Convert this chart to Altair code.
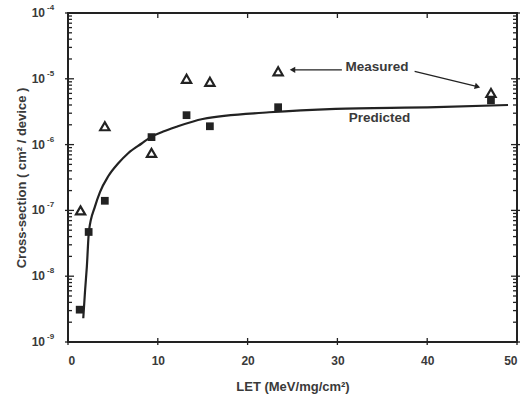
import altair as alt
import pandas as pd

# Measured (open triangles)
meas_let = [1.4, 4.1, 9.3, 13.2, 15.8, 23.4, 47.1]
meas_sig = [1.0e-7, 1.9e-6, 7.5e-7, 1.0e-5, 9.0e-6, 1.3e-5, 6.1e-6]

# Predicted points (filled squares)
pred_let = [1.3, 2.3, 4.1, 9.3, 13.2, 15.8, 23.4, 47.1]
pred_sig = [3.1e-9, 4.7e-8, 1.4e-7, 1.3e-6, 2.8e-6, 1.9e-6, 3.7e-6, 4.7e-6]

# Predicted curve
curve_let = [1.7, 1.9, 2.1, 2.33, 3.0, 3.56, 4.48, 5.6, 6.7, 8.2, 9.3, 10.6, 12, 15,
             22.4, 29.8, 41, 49]
curve_sig = [2.3e-9, 6e-9, 1.4e-8, 4.8e-8, 1.14e-7, 1.9e-7, 3.3e-7, 5.2e-7, 7.4e-7,
             1.04e-6, 1.32e-6, 1.58e-6, 1.85e-6, 2.45e-6, 3.1e-6, 3.5e-6, 3.7e-6, 4.0e-6]

x_ticks = [0, 10, 20, 30, 40, 50]
y_major = [1e-9, 1e-8, 1e-7, 1e-6, 1e-5, 1e-4]
y_exp = ["-9", "-8", "-7", "-6", "-5", "-4"]
y_minor = [m * 10.0 ** e for e in range(-9, -4) for m in range(2, 10)]

W, H = 449, 329
INK = "#222222"
TXT = "#3a3a3a"
FONT = "Liberation Sans"

xs = alt.Scale(domain=[0, 50], nice=False)
ys = alt.Scale(type="log", domain=[1e-9, 1e-4], nice=False)

x_axis = alt.Axis(values=x_ticks, ticks=False, domain=False, grid=False,
                  labelPadding=13, labelFont=FONT, labelFontSize=12,
                  labelFontWeight="bold", labelColor=TXT, titleFont=FONT,
                  titleFontSize=13, titleFontWeight="bold", titleColor=TXT,
                  titlePadding=14)
y_axis = alt.Axis(values=y_major, ticks=False, domain=False, grid=False,
                  labels=False, titleFont=FONT, titleFontSize=13,
                  titleFontWeight="bold", titleColor=TXT, titlePadding=40)
XT = "LET (MeV/mg/cm²)"
YT = "Cross-section  ( cm² / device )"


def X(f):
    return alt.X(f, scale=xs, axis=x_axis, title=XT)


def Y(f):
    return alt.Y(f, scale=ys, axis=y_axis, title=YT)


xt = pd.DataFrame({"v": x_ticks})
ymaj = pd.DataFrame({"v": y_major, "e": y_exp})
ymin = pd.DataFrame({"v": y_minor})

tick_style = dict(color=INK, strokeWidth=1.3)
ticks = [
    alt.Chart(xt).mark_rule(**tick_style).encode(x=X("v:Q"), y=alt.value(H - 4), y2=alt.value(H + 3)),
    alt.Chart(xt).mark_rule(**tick_style).encode(x=X("v:Q"), y=alt.value(0), y2=alt.value(5)),
    alt.Chart(ymaj).mark_rule(**tick_style).encode(y=Y("v:Q"), x=alt.value(-3), x2=alt.value(6)),
    alt.Chart(ymin).mark_rule(**tick_style).encode(y=Y("v:Q"), x=alt.value(0), x2=alt.value(4)),
    alt.Chart(ymaj).mark_rule(**tick_style).encode(y=Y("v:Q"), x=alt.value(W - 6), x2=alt.value(W + 3)),
    alt.Chart(ymin).mark_rule(**tick_style).encode(y=Y("v:Q"), x=alt.value(W - 4), x2=alt.value(W)),
]

ylab_base = alt.Chart(ymaj).mark_text(
    font=FONT, fontSize=12, fontWeight="bold", color=TXT, align="right", baseline="middle"
).encode(y=Y("v:Q"), x=alt.value(-23), text=alt.value("10"))
ylab_exp = alt.Chart(ymaj).mark_text(
    font=FONT, fontSize=8, fontWeight="bold", color=TXT, align="left", baseline="middle", dy=-5
).encode(y=Y("v:Q"), x=alt.value(-21), text="e:N")

curve = alt.Chart(pd.DataFrame({"x": curve_let, "y": curve_sig})).mark_line(
    color=INK, strokeWidth=2.2, interpolate="monotone"
).encode(x=X("x:Q"), y=Y("y:Q"))

squares = alt.Chart(pd.DataFrame({"x": pred_let, "y": pred_sig})).mark_point(
    shape="square", filled=True, color=INK, size=60, opacity=1
).encode(x=X("x:Q"), y=Y("y:Q"))

tris = alt.Chart(pd.DataFrame({"x": meas_let, "y": meas_sig})).mark_point(
    shape="triangle-up", filled=False, color=INK, size=85, strokeWidth=2.2, opacity=1
).encode(x=X("x:Q"), y=Y("y:Q"))

# annotations
lbl_meas = alt.Chart(pd.DataFrame({"x": [34.4], "y": [1.5e-5], "t": ["Measured"]})).mark_text(
    font=FONT, fontSize=13.5, fontWeight="bold", color=TXT
).encode(x=X("x:Q"), y=Y("y:Q"), text="t:N")

lbl_pred = alt.Chart(pd.DataFrame({"x": [34.7], "y": [2.5e-6], "t": ["Predicted"]})).mark_text(
    font=FONT, fontSize=13.5, fontWeight="bold", color=TXT
).encode(x=X("x:Q"), y=Y("y:Q"), text="t:N")

arr_df = pd.DataFrame({"x": [30.5, 38.6], "y": [1.37e-5, 1.3e-5],
                       "x2": [25.0, 45.6], "y2": [1.37e-5, 7.6e-6]})
arr_lines = alt.Chart(arr_df).mark_rule(color=INK, strokeWidth=1.2).encode(
    x=X("x:Q"), y=Y("y:Q"), x2="x2:Q", y2="y2:Q")

head_l = alt.Chart(pd.DataFrame({"x": [25.0], "y": [1.37e-5]})).mark_point(
    shape="triangle-left", filled=True, color=INK, size=40, opacity=1
).encode(x=X("x:Q"), y=Y("y:Q"))
head_r = alt.Chart(pd.DataFrame({"x": [45.6], "y": [7.6e-6]})).mark_point(
    shape="triangle-right", filled=True, color=INK, size=40, opacity=1, angle=16
).encode(x=X("x:Q"), y=Y("y:Q"))

chart = alt.layer(*ticks, ylab_base, ylab_exp, curve, squares, tris, arr_lines,
                  head_l, head_r, lbl_meas, lbl_pred).properties(
    width=W, height=H,
    autosize=alt.AutoSizeParams(type="none"),
    padding={"left": 68, "top": 13, "right": 9, "bottom": 58},
    background="white",
).configure_view(stroke=INK, strokeWidth=2)

chart.save("out.html", embed_options={"renderer": "svg", "actions": False})
